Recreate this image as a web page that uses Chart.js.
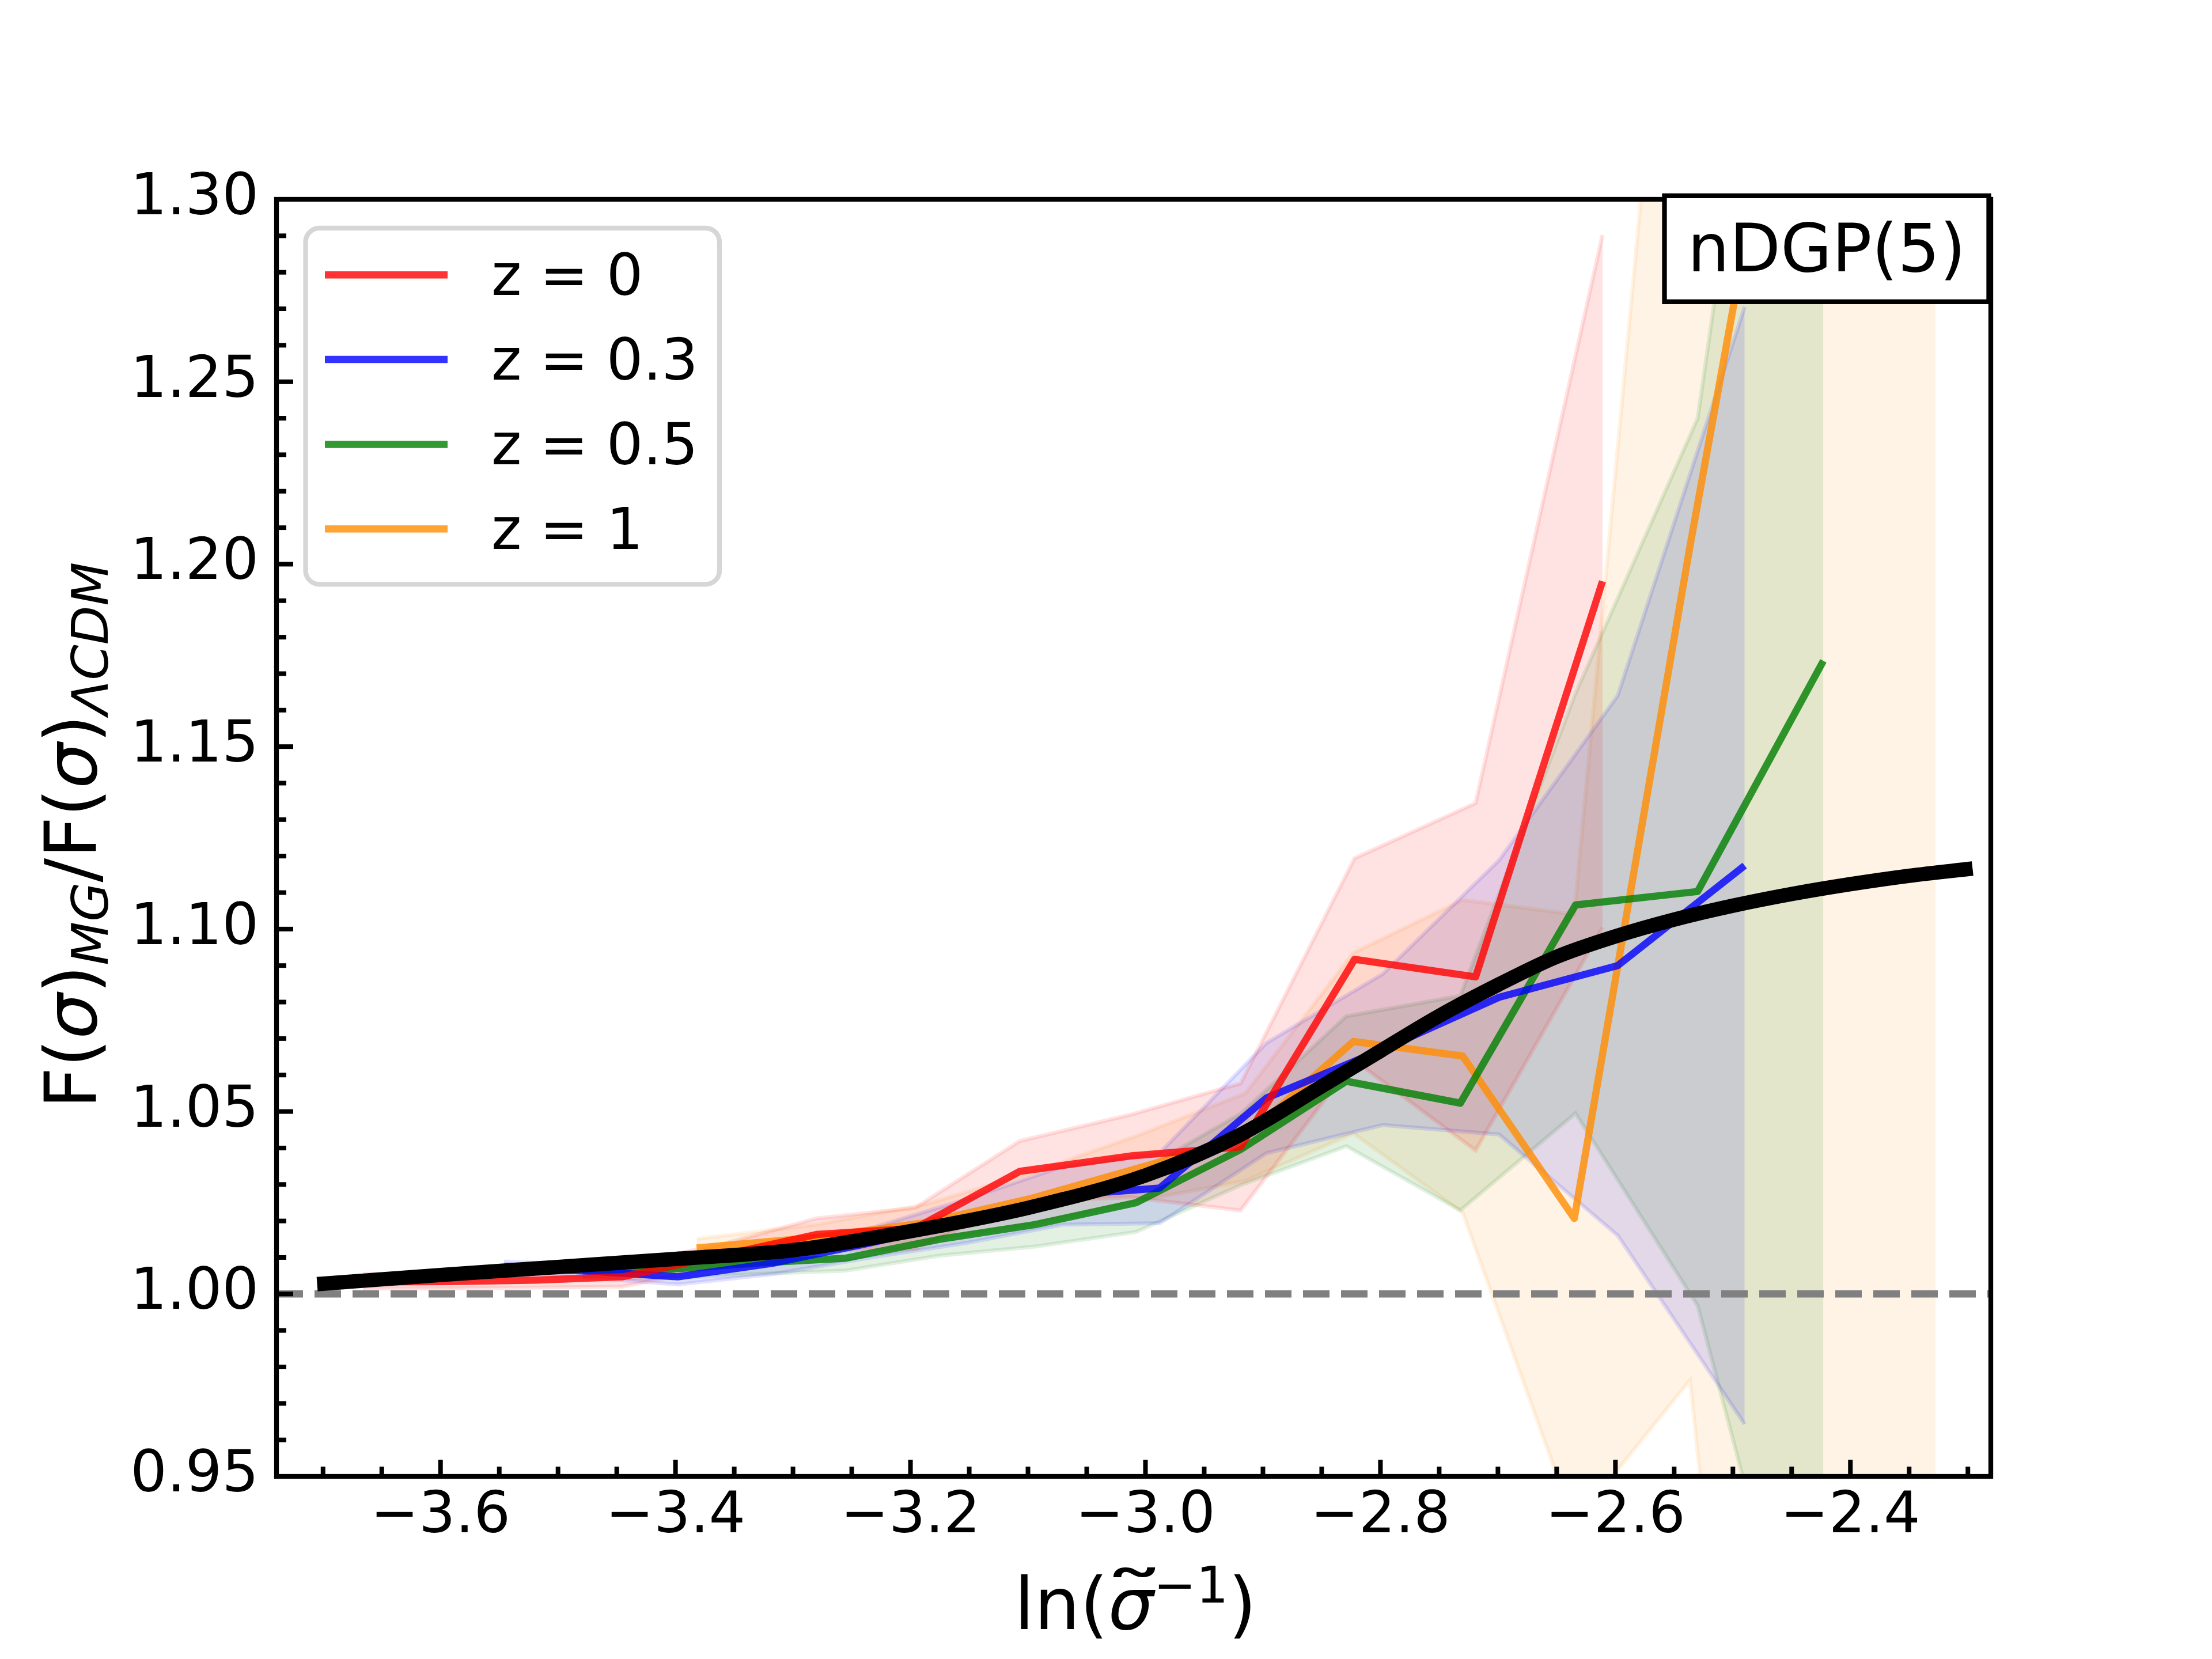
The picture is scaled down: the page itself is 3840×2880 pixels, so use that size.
<!DOCTYPE html>
<html>
<head>
<meta charset="utf-8">
<script src="https://cdn.jsdelivr.net/npm/chart.js@4.4.1/dist/chart.umd.min.js"></script>
<style>html,body{margin:0;padding:0;background:#fff;}canvas{display:block;}</style>
</head>
<body>
<canvas id="c" width="3840" height="2880" style="width:3840px;height:2880px"></canvas>
<script>
// ---------------- data ----------------
const xMin = -3.7396, xMax = -2.2805, yMin = 0.95, yMax = 1.30;
const refValue = 1.0;

const xRed   = [-3.666, -3.591, -3.518, -3.445, -3.362, -3.280, -3.196, -3.107, -3.013, -2.919, -2.822, -2.719, -2.611];
const yRed   = [1.0033, 1.0034, 1.0038, 1.0047, 1.0105, 1.0163, 1.0180, 1.0336, 1.0378, 1.0403, 1.0917, 1.0869, 1.1953];
const loRed  = [1.0015, 1.0015, 1.0018, 1.0020, 1.0075, 1.0119, 1.0124, 1.0253, 1.0265, 1.0229, 1.0640, 1.0393, 1.1004];
const hiRed  = [1.0055, 1.0053, 1.0058, 1.0080, 1.0135, 1.0207, 1.0236, 1.0419, 1.0491, 1.0577, 1.1194, 1.1345, 1.2902];

const xBlue  = [-3.546, -3.472, -3.398, -3.316, -3.234, -3.152, -3.070, -2.988, -2.897, -2.798, -2.699, -2.598, -2.490];
const yBlue  = [1.0073, 1.0062, 1.0047, 1.0085, 1.0140, 1.0200, 1.0270, 1.0290, 1.0537, 1.0670, 1.0813, 1.0900, 1.1174];
const loBlue = [1.0057, 1.0044, 1.0026, 1.0055, 1.0100, 1.0140, 1.0190, 1.0194, 1.0386, 1.0463, 1.0437, 1.0160, 0.9643];
const hiBlue = [1.0089, 1.0080, 1.0068, 1.0115, 1.0180, 1.0260, 1.0350, 1.0386, 1.0688, 1.0877, 1.1189, 1.1640, 1.2705];

const xGreen  = [-3.479, -3.404, -3.330, -3.255, -3.175, -3.094, -3.008, -2.919, -2.829, -2.732, -2.634, -2.530, -2.423];
const yGreen  = [1.0065, 1.0068, 1.0085, 1.0098, 1.0150, 1.0190, 1.0250, 1.0396, 1.0583, 1.0523, 1.1066, 1.1103, 1.1735];
const loGreen = [1.0045, 1.0043, 1.0055, 1.0064, 1.0105, 1.0130, 1.0170, 1.0298, 1.0405, 1.0229, 1.0495, 0.9968, 0.8660];
const hiGreen = [1.0085, 1.0093, 1.0115, 1.0132, 1.0195, 1.0250, 1.0330, 1.0494, 1.0761, 1.0817, 1.1646, 1.2400, 1.4800];

const xOrange  = [-3.382, -3.281, -3.188, -3.097, -3.006, -2.915, -2.823, -2.730, -2.635, -2.5365, -2.424, -2.3275];
const yOrange  = [1.0126, 1.0155, 1.0195, 1.0262, 1.0345, 1.0430, 1.0692, 1.0652, 1.0207, 1.2050, 1.4050, 1.4000];
const loOrange = [1.0101, 1.0120, 1.0145, 1.0192, 1.0255, 1.0310, 1.0440, 1.0223, 0.9370, 0.9764, 0.6300, 0.6000];
const hiOrange = [1.0151, 1.0190, 1.0245, 1.0332, 1.0435, 1.0550, 1.0935, 1.1080, 1.1040, 1.4450, 2.1800, 2.2000];

const xFit = [-3.705, -3.6, -3.5, -3.4, -3.3, -3.2, -3.1, -3.0, -2.92, -2.85, -2.8, -2.75, -2.7, -2.65, -2.6, -2.55, -2.5, -2.45, -2.4, -2.35, -2.296];
const yFit = [1.0027, 1.0052, 1.0074, 1.0096, 1.0120, 1.0172, 1.0236, 1.0325, 1.0435, 1.0569, 1.0666, 1.0762, 1.0847, 1.0924, 1.0980, 1.1026, 1.1064, 1.1096, 1.1123, 1.1146, 1.1166];

const seriesLabels = ['z = 0', 'z = 0.3', 'z = 0.5', 'z = 1'];
const boxLabel = 'nDGP(5)';

// ---------------- styles ----------------
const FAM = '"DejaVu Sans"';
const cRed = 'rgba(255,0,0,0.8)', cBlue = 'rgba(0,0,255,0.8)', cGreen = 'rgba(0,128,0,0.8)', cOrange = 'rgba(255,140,0,0.8)';
const fRed = 'rgba(255,0,0,0.11)', fBlue = 'rgba(0,0,255,0.11)', fGreen = 'rgba(0,128,0,0.11)', fOrange = 'rgba(255,140,0,0.10)';
const LW = 12.5, BANDW = 7;

function pts(xs, ys) { return xs.map((x, i) => ({x: x, y: ys[i]})); }

function lineDS(label, xs, ys, color, order, width) {
  return {label, data: pts(xs, ys), borderColor: color, borderWidth: width || LW, pointRadius: 0,
          fill: false, tension: 0, order, clip: 0, borderJoinStyle: 'round', borderCapStyle: 'butt'};
}
function bandLo(xs, lo, fill, order) {
  return {label: 'lo', data: pts(xs, lo), borderColor: fill, borderWidth: BANDW, pointRadius: 0,
          fill: false, tension: 0, order, clip: 0};
}
function bandHi(xs, hi, fill, target, order) {
  return {label: 'hi', data: pts(xs, hi), borderColor: fill, backgroundColor: fill, borderWidth: BANDW,
          pointRadius: 0, fill: target, tension: 0, order, clip: 0};
}

const datasets = [
  Object.assign(lineDS('fit', xFit, yFit, '#000000', 0, 25), {cubicInterpolationMode: 'monotone'}), // 0
  lineDS(seriesLabels[0], xRed, yRed, cRed, 1),        // 1
  lineDS(seriesLabels[1], xBlue, yBlue, cBlue, 2),     // 2
  lineDS(seriesLabels[2], xGreen, yGreen, cGreen, 3),  // 3
  lineDS(seriesLabels[3], xOrange, yOrange, cOrange, 4), // 4
  {label: 'ref', data: [{x: xMin, y: refValue}, {x: xMax, y: refValue}], borderColor: 'rgb(128,128,128)',
   borderWidth: 12.5, borderDash: [46, 20], pointRadius: 0, fill: false, order: 5, clip: 0, borderCapStyle: 'butt'}, // 5
  bandLo(xRed, loRed, fRed, 20),            // 6
  bandHi(xRed, hiRed, fRed, 6, 20),         // 7
  bandLo(xBlue, loBlue, fBlue, 21),         // 8
  bandHi(xBlue, hiBlue, fBlue, 8, 21),      // 9
  bandLo(xGreen, loGreen, fGreen, 22),      // 10
  bandHi(xGreen, hiGreen, fGreen, 10, 22),  // 11
  bandLo(xOrange, loOrange, fOrange, 23),   // 12
  bandHi(xOrange, hiOrange, fOrange, 12, 23) // 13
];

function isMult(v, step) { const r = v / step; return Math.abs(r - Math.round(r)) < 1e-6; }
function fmt(v, d) { const s = Math.abs(v).toFixed(d); return (v < -1e-9 ? '\u2212' : '') + s; }

function drawParts(ctx, parts, x0, y0) {
  let x = x0;
  for (const p of parts) {
    ctx.font = p.font;
    ctx.fillText(p.t, x, y0 + (p.dy || 0));
    const w = ctx.measureText(p.t).width;
    if (p.tilde) {
      ctx.save();
      ctx.font = '125px ' + FAM;
      ctx.textAlign = 'center';
      ctx.translate(x + w / 2 + 6, y0 - 10);
      ctx.scale(1.8, 1);
      ctx.fillText('\u02DC', 0, 0);
      ctx.restore();
    }
    x += w;
  }
}
function partsWidth(ctx, parts) {
  let w = 0;
  for (const p of parts) { ctx.font = p.font; w += ctx.measureText(p.t).width; }
  return w;
}

const decor = {
  id: 'decor',
  beforeDraw(chart) {
    const ctx = chart.ctx;
    ctx.save(); ctx.fillStyle = '#ffffff'; ctx.fillRect(0, 0, chart.width, chart.height); ctx.restore();
  },
  afterDatasetsDraw(chart) {
    const ctx = chart.ctx, a = chart.chartArea, xs = chart.scales.x, ys = chart.scales.y;
    ctx.save();
    // ticks (inward)
    ctx.strokeStyle = '#000'; ctx.lineWidth = 8; ctx.lineCap = 'butt';
    for (const t of ys.ticks) {
      if (!isMult(t.value, 0.01)) continue;
      const len = isMult(t.value, 0.05) ? 29 : 17;
      const p = ys.getPixelForValue(t.value);
      ctx.beginPath(); ctx.moveTo(a.left, p); ctx.lineTo(a.left + len, p); ctx.stroke();
    }
    for (const t of xs.ticks) {
      if (!isMult(t.value, 0.05)) continue;
      const len = isMult(t.value, 0.2) ? 29 : 17;
      const p = xs.getPixelForValue(t.value);
      ctx.beginPath(); ctx.moveTo(p, a.bottom); ctx.lineTo(p, a.bottom - len); ctx.stroke();
    }
    // spines
    ctx.lineWidth = 8.3; ctx.lineJoin = 'miter';
    ctx.strokeRect(a.left, a.top, a.right - a.left, a.bottom - a.top);

    // legend
    const lx = 530.5, ly = 396, lw = 718.5, lh = 618.4;
    ctx.beginPath(); ctx.roundRect(lx, ly, lw, lh, 24);
    ctx.fillStyle = 'rgba(255,255,255,0.8)'; ctx.fill();
    ctx.strokeStyle = 'rgba(204,204,204,0.8)'; ctx.lineWidth = 8.3; ctx.stroke();
    const rows = [477.3, 624.1, 771.4, 918.3];
    const cols = [cRed, cBlue, cGreen, cOrange];
    ctx.font = '100px ' + FAM; ctx.fillStyle = '#000'; ctx.textAlign = 'left'; ctx.textBaseline = 'alphabetic';
    for (let i = 0; i < 4; i++) {
      ctx.strokeStyle = cols[i]; ctx.lineWidth = LW; ctx.lineCap = 'butt';
      ctx.beginPath(); ctx.moveTo(564, rows[i]); ctx.lineTo(777, rows[i]); ctx.stroke();
      ctx.fillText(seriesLabels[i], 853, rows[i] + 35);
    }

    // nDGP(5) box
    ctx.fillStyle = '#fff';
    ctx.fillRect(2889.5, 339.8, 563, 184);
    ctx.strokeStyle = '#000'; ctx.lineWidth = 8.3;
    ctx.strokeRect(2889.5, 339.8, 563, 184);
    ctx.fillStyle = '#000'; ctx.font = '115px ' + FAM; ctx.textAlign = 'center';
    ctx.fillText(boxLabel, 3171, 471);

    // axis titles
    ctx.textAlign = 'left'; ctx.textBaseline = 'alphabetic';
    const R = '125px ' + FAM, I = 'italic 125px ' + FAM, RS = '88px ' + FAM, IS = 'italic 88px ' + FAM;
    const xParts = [{t: 'ln(', font: R}, {t: '\u03C3', font: I, tilde: true}, {t: '\u22121', font: RS, dy: -46}, {t: ')', font: R}];
    const xw = partsWidth(ctx, xParts);
    drawParts(ctx, xParts, 1971 - xw / 2, 2828);

    const yParts = [{t: 'F(', font: R}, {t: '\u03C3', font: I}, {t: ')', font: R}, {t: 'MG', font: IS, dy: 20},
                    {t: '/F(', font: R}, {t: '\u03C3', font: I}, {t: ')', font: R}, {t: '\u039BCDM', font: IS, dy: 20}];
    const yw = partsWidth(ctx, yParts);
    ctx.save();
    ctx.translate(167, 1450);
    ctx.rotate(-Math.PI / 2);
    drawParts(ctx, yParts, -yw / 2, 0);
    ctx.restore();

    ctx.restore();
  }
};

new Chart(document.getElementById('c'), {
  type: 'line',
  data: {datasets},
  options: {
    responsive: false, animation: false, devicePixelRatio: 1, events: [],
    layout: {padding: {left: 0, right: 384, top: 346, bottom: 0}},
    plugins: {legend: {display: false}, tooltip: {enabled: false}, title: {display: false}},
    scales: {
      x: {
        type: 'linear', min: xMin, max: xMax,
        grid: {display: false, drawTicks: false}, border: {display: false},
        afterFit: (s) => { s.height = 317; },
        ticks: {
          stepSize: 0.05, includeBounds: false, autoSkip: false, maxRotation: 0, minRotation: 0, padding: 11,
          color: '#000', font: {family: 'DejaVu Sans', size: 100},
          callback: (v) => isMult(v, 0.2) ? fmt(v, 1) : ''
        }
      },
      y: {
        type: 'linear', min: yMin, max: yMax,
        grid: {display: false, drawTicks: false}, border: {display: false},
        afterFit: (s) => { s.width = 480; },
        ticks: {
          stepSize: 0.01, includeBounds: false, autoSkip: false, padding: 31,
          color: '#000', font: {family: 'DejaVu Sans', size: 100},
          callback: (v) => isMult(v, 0.05) ? fmt(v, 2) : ''
        }
      }
    }
  },
  plugins: [decor]
});
</script>
</body>
</html>
